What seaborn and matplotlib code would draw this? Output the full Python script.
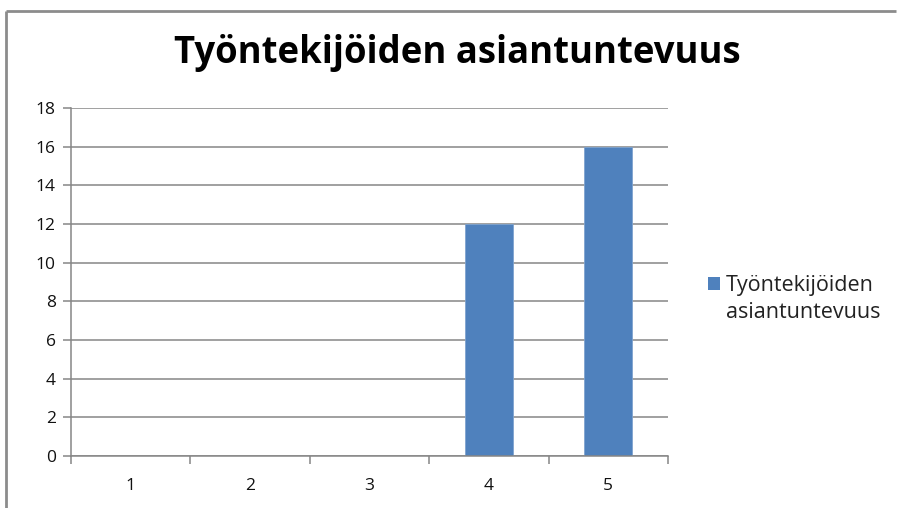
import matplotlib
matplotlib.use("Agg")
import matplotlib.pyplot as plt
from matplotlib.lines import Line2D
from matplotlib.patches import Rectangle
import pandas as pd
import seaborn as sns

# Chart data
categories = ["1", "2", "3", "4", "5"]
counts = [0, 0, 0, 12, 16]
series_name = "Työntekijöiden asiantuntevuus"
y_ticks = [0, 2, 4, 6, 8, 10, 12, 14, 16, 18]

BAR_COLOR = "#4F81BD"
GRID_COLOR = "#868686"
FONT = "Open Sans"

sns.set_theme(style="white")
plt.rcParams["font.family"] = [FONT, "DejaVu Sans"]

df = pd.DataFrame({"category": categories, "count": counts})

W, H = 897, 508
fig = plt.figure(figsize=(W / 100, H / 100), dpi=100)
ax = fig.add_axes([71 / W, 1 - 456 / H, (668 - 71) / W, (456 - 108) / H])

sns.barplot(data=df, x="category", y="count", color=BAR_COLOR, width=0.4,
            saturation=1, ax=ax, edgecolor="#7FA3CF", linewidth=0.6)

ax.set_xlim(-0.5, len(categories) - 0.5)
ax.set_ylim(0, 18)
ax.set_yticks(y_ticks)
ax.set_yticklabels([str(v) for v in y_ticks])
ax.set_xlabel("")
ax.set_ylabel("")

ax.yaxis.grid(True, color=GRID_COLOR, linewidth=1.1)
ax.set_axisbelow(True)
for side in ("top", "right"):
    ax.spines[side].set_visible(False)
for side in ("left", "bottom"):
    ax.spines[side].set_color(GRID_COLOR)
    ax.spines[side].set_linewidth(1.1)

# y ticks stick out to the left; x ticks sit on category boundaries
ax.tick_params(axis="y", direction="out", length=6, width=1.1, color=GRID_COLOR,
               left=True, labelsize=12.5, labelcolor="#111111", pad=5)
ax.tick_params(axis="x", which="major", length=0, labelsize=12.5,
               labelcolor="#111111", pad=16)
ax.set_xticks([i - 0.5 for i in range(len(categories) + 1)], minor=True)
ax.tick_params(axis="x", which="minor", direction="out", length=6, width=1.1,
               color=GRID_COLOR, bottom=True)

fig.text(457 / W, 1 - 63 / H, series_name, ha="center", va="baseline",
         fontsize=26.3, fontweight="bold", color="#000000")

# Legend: one colored key, name wrapped over two lines
words = series_name.split(" ")
handles = [Rectangle((0, 0), 1, 1, facecolor=BAR_COLOR, edgecolor="none"),
           Rectangle((0, 0), 1, 1, alpha=0)]
leg = fig.legend(handles, words, loc="upper left",
                 bbox_to_anchor=(708 / W, 1 - 275 / H),
                 frameon=False, fontsize=15.5, handlelength=0.56, handleheight=0.56,
                 handletextpad=0.28, labelspacing=0.28, borderpad=0, borderaxespad=0)
for t in leg.get_texts():
    t.set_color("#222222")

# Chart frame (top and left edges)
fig.add_artist(Line2D([5.5 / W, 896 / W], [1 - 10.5 / H, 1 - 10.5 / H],
                      transform=fig.transFigure, color="#8C8C8C", linewidth=2,
                      solid_capstyle="butt"))
fig.add_artist(Line2D([5.5 / W, 5.5 / W], [0, 1 - 10.5 / H],
                      transform=fig.transFigure, color="#8C8C8C", linewidth=2,
                      solid_capstyle="butt"))

fig.savefig("out.png", dpi=100, facecolor="white")
